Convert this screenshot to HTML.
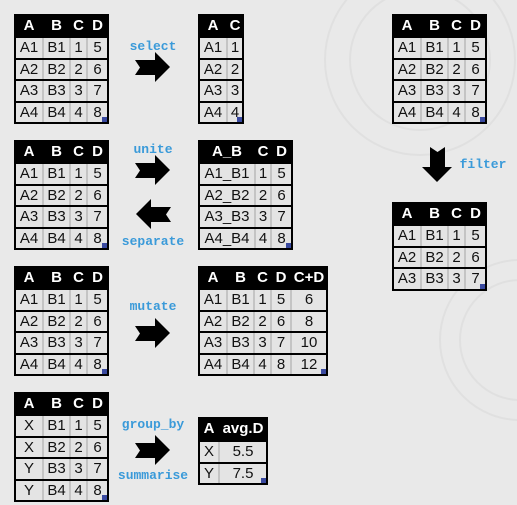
<!DOCTYPE html>
<html><head><meta charset="utf-8"><style>
html,body{margin:0;padding:0}
body{width:517px;height:505px;background:#e9e9e9;position:relative;overflow:hidden;font-family:"Liberation Sans",Arial,sans-serif}
.t{position:absolute;background:#000;}
.c{position:absolute;display:flex;align-items:center;justify-content:center;font-size:15px;color:#111;background:#e4e4e4}
.h{background:#000;color:#fff;font-weight:bold;font-size:15px}
.lbl{position:absolute;font-family:"Liberation Mono",monospace;font-weight:bold;font-size:13px;color:#3a9ad9;transform:translateX(-50%);white-space:nowrap}
.sq{position:absolute;width:5px;height:5px;background:#3a4aa0}
svg.ar{position:absolute}
</style></head><body>
<svg width="517" height="505" style="position:absolute;left:0;top:0">
<g fill="none" stroke="#e0e0e0" stroke-width="2">
<circle cx="420" cy="60" r="95"/><circle cx="420" cy="60" r="70"/>
<circle cx="520" cy="340" r="80"/><circle cx="520" cy="340" r="60"/>
</g></svg>
<div id="root"></div>
<script>
function table(x,y,cols,rows,hh,rh){
  var W=cols.reduce((a,b)=>a+b,0);
  var H=hh+(rows.length-1)*rh;
  var r=document.getElementById('root');
  var t=document.createElement('div');t.className='t';
  t.style.cssText='left:'+x+'px;top:'+y+'px;width:'+(W+2)+'px;height:'+(H+2)+'px';
  r.appendChild(t);
  rows.forEach(function(row,ri){
    var cx=x+2;
    row.forEach(function(v,ci){
      var d=document.createElement('div');
      d.className='c'+(ri==0?' h':'');
      var top=ri==0?y:y+hh+(ri-1)*rh+2;
      var h=ri==0?hh:rh-2;
      var w=cols[ci]-2;
      d.style.cssText='left:'+cx+'px;top:'+top+'px;width:'+w+'px;height:'+h+'px;'+(ri>0&&ci<cols.length-1?'box-shadow:2px 0 0 #c4c4c4;':'');
      d.textContent=v;r.appendChild(d);cx+=cols[ci];
    });
  });
  var s=document.createElement('div');s.className='sq';
  s.style.left=(x+W-5)+'px';s.style.top=(y+H-5)+'px';r.appendChild(s);
}
var base=[['A','B','C','D'],['A1','B1','1','5'],['A2','B2','2','6'],['A3','B3','3','7'],['A4','B4','4','8']];
var c4=[28,27,17,21];
table(14,14,c4,base,22,21.5);
table(198,14,[28,16],[['A','C'],['A1','1'],['A2','2'],['A3','3'],['A4','4']],22,21.5);
table(392,14,c4,base,22,21.5);
table(392,202,c4,base.slice(0,4),22,21.5);
table(14,140,c4,base,22,21.5);
table(198,140,[56,16,21],[['A_B','C','D'],['A1_B1','1','5'],['A2_B2','2','6'],['A3_B3','3','7'],['A4_B4','4','8']],22,21.5);
table(14,266,c4,base,22,21.5);
table(198,266,[28,27,17,20,36],[['A','B','C','D','C+D'],['A1','B1','1','5','6'],['A2','B2','2','6','8'],['A3','B3','3','7','10'],['A4','B4','4','8','12']],22,21.5);
table(14,392,c4,[['A','B','C','D'],['X','B1','1','5'],['X','B2','2','6'],['Y','B3','3','7'],['Y','B4','4','8']],22,21.5);
table(198,417,[20,48],[['A','avg.D'],['X','5.5'],['Y','7.5']],23,21.5);
</script>
<svg class="ar" style="left:135px;top:52px" width="36" height="31"><polygon points="0,8 20,8 20,0 35,15 20,30 20,23 0,23 5,15.5" fill="#000"/></svg>
<svg class="ar" style="left:135px;top:155px" width="36" height="31"><polygon points="0,8 20,8 20,0 35,15 20,30 20,23 0,23 5,15.5" fill="#000"/></svg>
<svg class="ar" style="left:135px;top:199px" width="36" height="31"><polygon points="36,8 16,8 16,0 1,15 16,30 16,23 36,23 31,15.5" fill="#000"/></svg>
<svg class="ar" style="left:135px;top:318px" width="36" height="31"><polygon points="0,8 20,8 20,0 35,15 20,30 20,23 0,23 5,15.5" fill="#000"/></svg>
<svg class="ar" style="left:135px;top:435px" width="36" height="31"><polygon points="0,8 20,8 20,0 35,15 20,30 20,23 0,23 5,15.5" fill="#000"/></svg>
<svg class="ar" style="left:422px;top:147px" width="31" height="36"><polygon points="8,0 8,20 0,20 15,35 30,20 23,20 23,0 15.5,5" fill="#000"/></svg>
<div class="lbl" style="left:153px;top:39px">select</div>
<div class="lbl" style="left:153px;top:142px">unite</div>
<div class="lbl" style="left:153px;top:234px">separate</div>
<div class="lbl" style="left:153px;top:299px">mutate</div>
<div class="lbl" style="left:153px;top:417px">group_by</div>
<div class="lbl" style="left:153px;top:468px">summarise</div>
<div class="lbl" style="left:483px;top:157px">filter</div>
</body></html>
